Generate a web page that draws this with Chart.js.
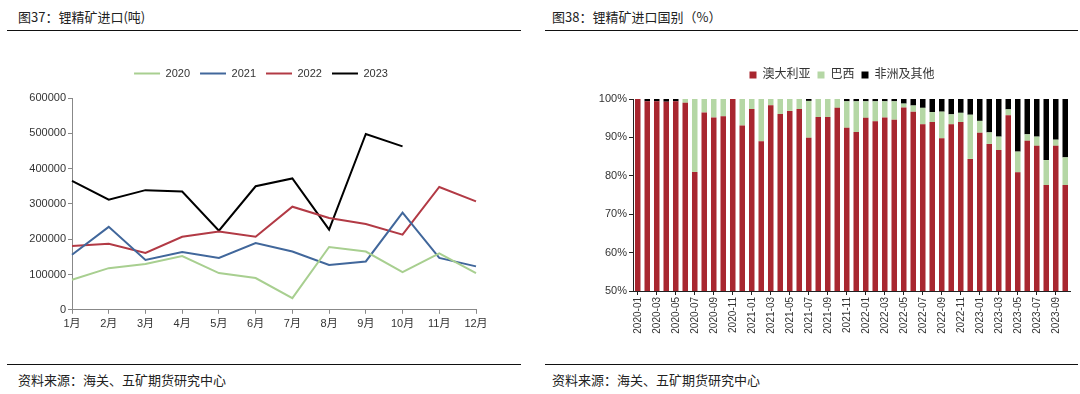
<!DOCTYPE html>
<html><head><meta charset="utf-8">
<script src="https://cdn.jsdelivr.net/npm/chart.js@4"></script>
<style>
body{margin:0;width:1080px;height:394px;background:#fff;position:relative;overflow:hidden;font-family:"Noto Sans CJK SC",sans-serif;}
.t{position:absolute;font-size:13px;line-height:16px;color:#222;white-space:nowrap;}
.rule{position:absolute;height:0;border-top:1.5px solid #111;}
canvas{position:absolute;}
</style></head><body>
<div class="t" style="left:18px;top:9px;">图37：锂精矿进口(吨)</div>
<div class="t" style="left:552px;top:9px;">图38：锂精矿进口国别（%）</div>
<div class="rule" style="left:7px;top:30px;width:514px;"></div>
<div class="rule" style="left:545px;top:30px;width:533px;"></div>
<div class="rule" style="left:7px;top:364px;width:514px;"></div>
<div class="rule" style="left:545px;top:364px;width:533px;"></div>
<div class="t" style="left:18px;top:372px;">资料来源：海关、五矿期货研究中心</div>
<div class="t" style="left:552px;top:372px;">资料来源：海关、五矿期货研究中心</div>
<canvas id="c1" width="516" height="296" style="left:4px;top:44px;"></canvas>
<canvas id="c2" width="482" height="306" style="left:598px;top:44px;"></canvas>
<script>
const months = ['1月','2月','3月','4月','5月','6月','7月','8月','9月','10月','11月','12月'];
const yearLabels = ['2020','2021','2022','2023'];
const imp2020 = [85000,118000,130000,152000,104000,90000,33000,178000,165000,107000,160000,104000];
const imp2021 = [156000,235000,141000,164000,147000,189000,165000,127000,137000,275000,147000,123000];
const imp2022 = [181000,187000,161000,207000,222000,207000,292000,260000,243000,213000,348000,307000];
const imp2023 = [365000,312000,339000,335000,224000,350000,372000,227000,498000,463000,null,null];
const yTicksLeft = [0,100000,200000,300000,400000,500000,600000];

const periods = ['2020-01','2020-02','2020-03','2020-04','2020-05','2020-06','2020-07','2020-08','2020-09','2020-10','2020-11','2020-12',
'2021-01','2021-02','2021-03','2021-04','2021-05','2021-06','2021-07','2021-08','2021-09','2021-10','2021-11','2021-12',
'2022-01','2022-02','2022-03','2022-04','2022-05','2022-06','2022-07','2022-08','2022-09','2022-10','2022-11','2022-12',
'2023-01','2023-02','2023-03','2023-04','2023-05','2023-06','2023-07','2023-08','2023-09','2023-10'];
const countryLabels = ['澳大利亚','巴西','非洲及其他'];
const australia = [100,99.4,99.4,99.3,99.4,99,81,96.5,95.2,95.5,100,93.1,
97.4,89,98.4,96.1,96.9,97.4,89.9,95.3,95.3,97.7,92.5,91.4,
95.1,94.2,95.2,94.6,97.8,96.7,93.4,94.0,89.8,93.4,94.0,84.4,
91.2,88.3,86.7,95.8,80.9,89.1,87.8,77.6,87.8,77.6];
const brazil = [0,0,0,0,0,1.0,19.0,3.5,4.8,4.5,0,6.9,
2.6,11.0,1.6,3.9,3.1,2.6,9.6,4.7,4.7,2.3,6.9,8.0,
4.3,5.2,4.2,4.8,1.0,1.6,4.3,2.6,6.9,2.6,2.4,11.5,
3.1,3.0,3.5,1.5,5.4,1.7,2.4,6.5,1.6,7.2];
const others = [0,0.6,0.6,0.7,0.6,0,0,0,0,0,0,0,
0,0,0,0,0,0,0.5,0,0,0,0.6,0.6,
0.6,0.6,0.6,0.6,1.2,1.7,2.3,3.4,3.3,4.0,3.6,4.1,
5.7,8.7,9.8,2.7,13.7,9.2,9.8,15.9,10.6,15.2];
const pctTicks = [50,60,70,80,90,100];

const FONT = '"Liberation Sans", Arial, "Noto Sans CJK SC", sans-serif';
const tickFont = {family: FONT, size: 11};
const lineColors = ['#a8cf90','#41679b','#b23a45','#000000'];
const lineSeries = [imp2020, imp2021, imp2022, imp2023];

// adds space below the legend and nudges it sideways, item spacing unchanged
function legendTweak(extra, dx) {
  return {
    id: 'legendTweak',
    afterInit(chart) {
      const lg = chart.legend;
      if (!lg || lg._tweaked) return;
      const fit = lg.fit, draw = lg.draw;
      lg.fit = function() { fit.call(this); this.height += extra; };
      lg.draw = function() {
        const ctx = this.ctx; ctx.save(); ctx.translate(dx, 0); draw.call(this); ctx.restore();
      };
      lg._tweaked = true;
    }
  };
}

new Chart(document.getElementById('c1'), {
  type: 'line',
  data: {
    labels: months,
    datasets: lineSeries.map((d, i) => ({
      label: yearLabels[i], data: d, borderColor: lineColors[i], backgroundColor: lineColors[i],
      borderWidth: 2, pointRadius: 0, tension: 0, spanGaps: false
    }))
  },
  plugins: [legendTweak(9, 21)],
  options: {
    responsive: false, animation: false,
    layout: {padding: {left: 0, right: 44, top: 14, bottom: 5}},
    plugins: {
      tooltip: {enabled: false},
      legend: {position: 'top', labels: {usePointStyle: true, pointStyle: 'line', pointStyleWidth: 26,
        font: tickFont, color: '#333', padding: 10}}
    },
    scales: {
      x: {offset: false, grid: {drawOnChartArea: false, tickLength: 4, color: '#888'},
        border: {color: '#888', width: 1},
        ticks: {font: tickFont, color: '#333', autoSkip: false, maxRotation: 0, padding: 4}},
      y: {min: 0, max: 600000, afterBuildTicks: s => { s.ticks = yTicksLeft.map(v => ({value: v})); },
        grid: {drawOnChartArea: false, tickLength: 4, color: '#888'},
        border: {color: '#888', width: 1},
        ticks: {font: tickFont, color: '#333', padding: 2, callback: v => String(v)},
        afterFit: s => { s.width = 68; }}
    }
  }
});

const barColors = ['#a8262f','#b5d7a5','#000000'];
const barSeries = [australia, brazil, others];
new Chart(document.getElementById('c2'), {
  type: 'bar',
  data: {
    labels: periods,
    datasets: barSeries.map((d, i) => ({
      label: countryLabels[i], data: d, backgroundColor: barColors[i], borderWidth: 0,
      barPercentage: 0.58, categoryPercentage: 1.0
    }))
  },
  plugins: [legendTweak(8, 8)],
  options: {
    responsive: false, animation: false,
    layout: {padding: {left: 0, right: 10, top: 18, bottom: 10}},
    plugins: {
      tooltip: {enabled: false},
      legend: {position: 'top', labels: {boxWidth: 7, boxHeight: 7, font: {family: FONT, size: 12}, color: '#333', padding: 7}}
    },
    scales: {
      x: {stacked: true, grid: {drawOnChartArea: false, offset: false, tickLength: 4,
          color: c => (c.index % 2 === 0 ? '#222' : 'rgba(0,0,0,0)')},
        border: {color: '#222', width: 1},
        ticks: {font: {family: FONT, size: 10}, color: '#333', autoSkip: false, minRotation: 90, maxRotation: 90, padding: 2,
          callback: function(v, i) { return i % 2 === 0 ? this.getLabelForValue(v) : ''; }},
        afterFit: s => { s.height = 49; }},
      y: {stacked: true, min: 50, max: 100,
        afterBuildTicks: s => { s.ticks = pctTicks.map(v => ({value: v})); },
        grid: {drawOnChartArea: false, tickLength: 4, color: '#222'},
        border: {color: '#222', width: 1},
        ticks: {font: tickFont, color: '#333', padding: 2, callback: v => v + '%'},
        afterFit: s => { s.width = 35; }}
    }
  }
});
</script>
</body></html>
